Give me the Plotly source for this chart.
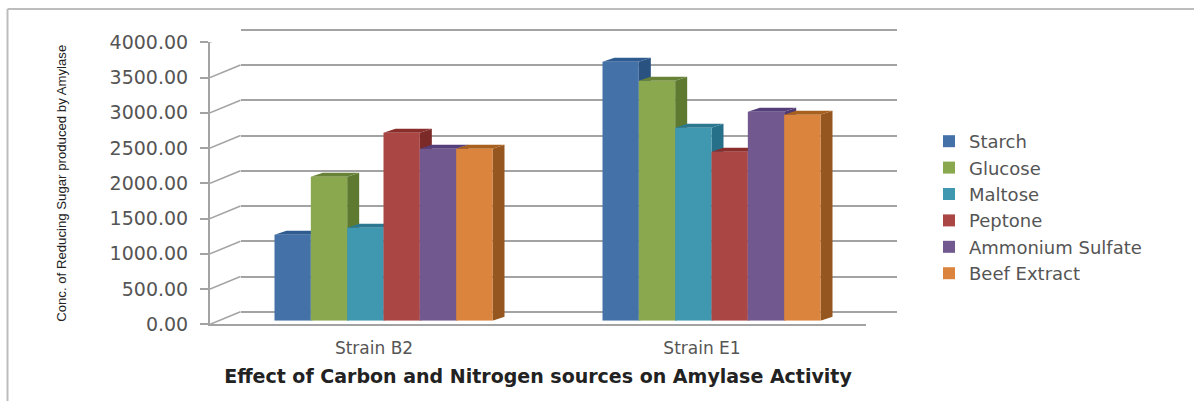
import plotly.graph_objects as go

categories = ["Strain B2", "Strain E1"]
series_names = ["Starch", "Glucose", "Maltose", "Peptone", "Ammonium Sulfate", "Beef Extract"]
starch = [1220, 3674]
glucose = [2043, 3404]
maltose = [1319, 2738]
peptone = [2667, 2397]
ammonium_sulfate = [2440, 2965]
beef_extract = [2440, 2922]
tick_values = [0, 500, 1000, 1500, 2000, 2500, 3000, 3500, 4000]
tick_labels = [f"{v:.2f}" for v in tick_values]

all_series = [starch, glucose, maltose, peptone, ammonium_sulfate, beef_extract]
front_colors = ["#4472A8", "#8AA84E", "#3F98B0", "#AA4643", "#71588F", "#DB843D"]
side_colors = ["#2A5280", "#5E7A30", "#26708A", "#7C2A28", "#4E3A70", "#95561F"]
top_colors = ["#2F5C90", "#688238", "#2B7890", "#8A2E2C", "#553F7A", "#A8601F"]

W, H = 1194, 401
GRID = "#A3A3A3"
TXT = "#555555"
FRONT_L, FRONT_R = 210, 866
FRONT_Y0, FRONT_Y1 = 324.3, 42.3
WALL_DX, WALL_DY = 30.5, 12.5
BAR_DX, BAR_DY = 9.5, 3.5
FACE_DX, FACE_DY = 12, 4
GROUP_PX = 218
PAD = 100  # extra data units around the back wall so that its end gridlines are kept

px_x = (FRONT_R - FRONT_L) / 2
px_y = (FRONT_Y0 - FRONT_Y1) / 4000


def xdom(shift):
    return [(FRONT_L + shift) / W, (FRONT_R + shift) / W]


def ydom(shift, pad=0):
    return [(H - FRONT_Y0 + shift - pad * px_y) / H, (H - FRONT_Y1 + shift + pad * px_y) / H]


fig = go.Figure()

# back wall (grid)
fig.add_trace(go.Scatter(x=[0], y=[0], xaxis="x", yaxis="y", mode="none",
                         showlegend=False, hoverinfo="skip"))

# wall connectors and floor edge, derived from the axis ticks
wall_x, wall_y = [], []
wall_du = WALL_DY / px_y
wall_dc = WALL_DX / px_x
for t in tick_values:
    wall_x += [-0.5, -0.5 + wall_dc, None]
    wall_y += [t, t + wall_du, None]
wall_x += [1.5, 1.5 + wall_dc]
wall_y += [0, wall_du]
fig.add_trace(go.Scatter(x=wall_x, y=wall_y, xaxis="x2", yaxis="y2", mode="lines",
                         line=dict(color=GRID, width=1.5), cliponaxis=False,
                         showlegend=False, hoverinfo="skip"))

# depth faces of the bars
bar_w = GROUP_PX / 6 / px_x
dc = FACE_DX / px_x
du = FACE_DY / px_y
for c in range(len(categories)):
    for i, vals in enumerate(all_series):
        v = vals[c]
        xl = c + (i - 3) * bar_w
        xr = xl + bar_w
        fig.add_trace(go.Scatter(
            x=[xr, xr + dc, xr + dc, xr, xr], y=[0, du, v + du, v, 0],
            xaxis="x3", yaxis="y3", mode="lines", fill="toself",
            fillcolor=side_colors[i], line=dict(width=0), cliponaxis=False,
            showlegend=False, hoverinfo="skip"))
        fig.add_trace(go.Scatter(
            x=[xl, xl + dc, xr + dc, xr, xl], y=[v, v + du, v + du, v, v],
            xaxis="x3", yaxis="y3", mode="lines", fill="toself",
            fillcolor=top_colors[i], line=dict(width=0), cliponaxis=False,
            showlegend=False, hoverinfo="skip"))

# front faces of the bars
for i, (name, vals) in enumerate(zip(series_names, all_series)):
    fig.add_trace(go.Bar(x=[0, 1], y=vals, name=name, xaxis="x4", yaxis="y4",
                         legendgroup=name, marker=dict(color=front_colors[i], line=dict(width=0))))

xr_ = [-0.5, 1.5]
yr_ = [0, 4000]
fig.update_layout(
    width=W, height=H, margin=dict(l=0, r=0, t=0, b=0, autoexpand=False),
    paper_bgcolor="#FFFFFF", plot_bgcolor="rgba(0,0,0,0)",
    barmode="group", bargap=1 - GROUP_PX / px_x, bargroupgap=0,
    font=dict(family="DejaVu Sans", color=TXT),
    xaxis=dict(domain=xdom(WALL_DX), range=xr_, anchor="y", visible=False),
    yaxis=dict(domain=ydom(WALL_DY, PAD), range=[-PAD, 4000 + PAD], anchor="x", tickvals=tick_values,
               showgrid=True, gridcolor=GRID, gridwidth=1.5, zeroline=False,
               showline=False, ticks="", showticklabels=False),
    xaxis2=dict(domain=xdom(0), range=xr_, anchor="y2", tickvals=[0, 1], ticktext=categories,
                showline=True, linecolor=GRID, linewidth=2, showgrid=False, zeroline=False,
                ticks="", tickfont=dict(size=17, color=TXT), ticklabelstandoff=7,
                title=dict(text="<b>Effect of Carbon and Nitrogen sources on Amylase Activity</b>",
                           font=dict(size=19, color="#222222"), standoff=13)),
    yaxis2=dict(domain=ydom(0), range=yr_, anchor="x2", tickvals=tick_values, ticktext=tick_labels,
                showline=True, linecolor=GRID, linewidth=2, showgrid=False, zeroline=False,
                ticks="outside", ticklen=8, tickwidth=1.5, tickcolor=GRID, ticklabelstandoff=8,
                tickfont=dict(size=19, color=TXT),
                title=dict(text="Conc. of Reducing Sugar produced by Amylase",
                           font=dict(size=13.2, family="Liberation Sans", color="#222222"),
                           standoff=40)),
    xaxis3=dict(domain=xdom(BAR_DX), range=xr_, anchor="y3", visible=False),
    yaxis3=dict(domain=ydom(BAR_DY), range=yr_, anchor="x3", visible=False),
    xaxis4=dict(domain=xdom(BAR_DX), range=xr_, anchor="y4", visible=False),
    yaxis4=dict(domain=ydom(BAR_DY), range=yr_, anchor="x4", visible=False),
    legend=dict(x=929 / W, y=1 - 123 / H, xanchor="left", yanchor="top",
                font=dict(size=18, color=TXT), tracegroupgap=5, traceorder="normal",
                bgcolor="rgba(0,0,0,0)"),
    shapes=[
        dict(type="line", xref="paper", yref="paper", x0=7.5 / W, x1=7.5 / W, y0=0, y1=1 - 9 / H,
             line=dict(color="#BDBDBD", width=2)),
        dict(type="line", xref="paper", yref="paper", x0=7.5 / W, x1=1, y0=1 - 9 / H, y1=1 - 9 / H,
             line=dict(color="#BDBDBD", width=2)),
    ],
)

fig.write_html("out.html", config={"displayModeBar": False},
               post_script="document.body.style.margin='0';")
